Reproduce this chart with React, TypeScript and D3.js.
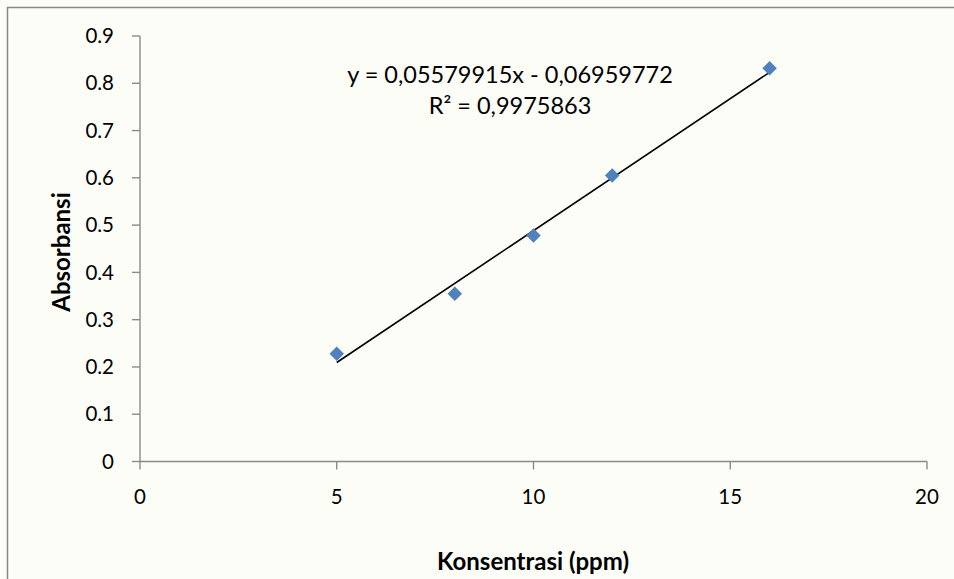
import React from "react";
import * as d3 from "d3";

const concentrations = [5, 8, 10, 12, 16];
const absorbances = [0.228, 0.355, 0.478, 0.605, 0.832];
const xTicks = [0, 5, 10, 15, 20];
const yTicks = [0, 0.1, 0.2, 0.3, 0.4, 0.5, 0.6, 0.7, 0.8, 0.9];
const slope = 0.05579915;
const intercept = -0.06959772;
const equationText = "y = 0,05579915x - 0,06959772";
const r2Text = "R² = 0,9975863";
const xTitle = "Konsentrasi (ppm)";
const yTitle = "Absorbansi";

const W = 954;
const H = 579;
const FONT = "Lato, 'Open Sans', sans-serif";

export default function App() {
  const x = d3.scaleLinear().domain([0, 20]).range([140, 927]);
  const y = d3.scaleLinear().domain([0, 0.9]).range([461.5, 36]);
  const axisColor = "#8a8a8a";
  const xMin = d3.min(concentrations) as number;
  const xMax = d3.max(concentrations) as number;
  const trend = d3.line<number>().x((d) => x(d)).y((d) => y(slope * d + intercept));
  const diamond = d3.symbol().type(d3.symbolSquare).size(105)();

  return (
    <svg
      width={W}
      height={H}
      style={{ position: "absolute", left: 0, top: 0, background: "#fdfdf8" }}
      fontFamily={FONT}
    >
      <rect x={7.5} y={7.5} width={W + 10} height={H + 10} fill="none" stroke="#888" strokeWidth={1.5} />
      {/* y axis */}
      <line x1={x(0)} x2={x(0)} y1={y(0)} y2={y(0.9)} stroke={axisColor} strokeWidth={1.4} />
      {yTicks.map((t) => (
        <g key={"y" + t}>
          <line x1={x(0) - 8} x2={x(0)} y1={y(t)} y2={y(t)} stroke={axisColor} strokeWidth={1.4} />
          <text x={x(0) - 26} y={y(t)} dy="0.35em" textAnchor="end" fontSize={20.5} fill="#000">
            {t === 0 ? "0" : d3.format(".1f")(t)}
          </text>
        </g>
      ))}
      {/* x axis */}
      <line x1={x(0)} x2={x(20)} y1={y(0)} y2={y(0)} stroke={axisColor} strokeWidth={1.4} />
      {xTicks.map((t) => (
        <g key={"x" + t}>
          <line x1={x(t)} x2={x(t)} y1={y(0)} y2={y(0) + 8} stroke={axisColor} strokeWidth={1.4} />
          <text x={x(t)} y={y(0) + 35} dy="0.35em" textAnchor="middle" fontSize={20.5} fill="#000">
            {t}
          </text>
        </g>
      ))}
      {/* trendline */}
      <path d={trend([xMin, xMax]) || ""} fill="none" stroke="#000" strokeWidth={1.6} />
      {/* points */}
      {concentrations.map((c, i) => (
        <path
          key={"p" + i}
          d={diamond || ""}
          transform={`translate(${x(c)},${y(absorbances[i])}) rotate(45)`}
          fill="#4f81bd"
        />
      ))}
      {/* equation */}
      <text x={510} y={75} dy="0.35em" textAnchor="middle" fontSize={23.5} fill="#000">
        {equationText}
      </text>
      <text x={510} y={106} dy="0.35em" textAnchor="middle" fontSize={23.5} fill="#000">
        {r2Text}
      </text>
      {/* titles */}
      <text x={533} y={562} dy="0.35em" textAnchor="middle" fontSize={24} fontWeight="bold" fill="#000">
        {xTitle}
      </text>
      <text
        transform={`translate(62,252) rotate(-90)`}
        dy="0.35em"
        textAnchor="middle"
        fontSize={24}
        fontWeight="bold"
        fill="#000"
      >
        {yTitle}
      </text>
    </svg>
  );
}
